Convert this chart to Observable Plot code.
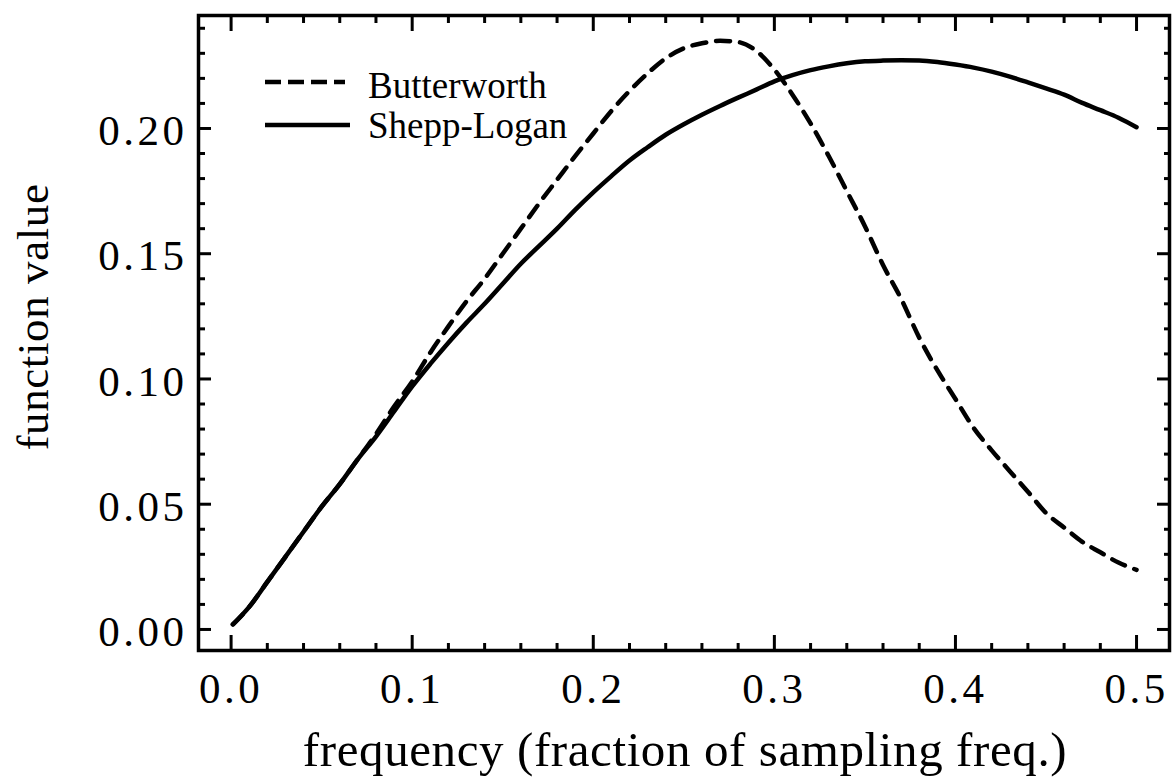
<!DOCTYPE html>
<html><head><meta charset="utf-8">
<script src="https://cdn.jsdelivr.net/npm/d3@7"></script>
<script src="https://cdn.jsdelivr.net/npm/@observablehq/plot@0.6"></script>
<style>
html,body{margin:0;padding:0;background:#fff;}
#chart svg{display:block;}
</style></head><body><div id="chart"></div>
<script>
// ---- data ----
const freq = [0.001,0.01,0.02,0.03,0.04,0.05,0.06,0.07,0.08,0.09,
  0.10,0.11,0.12,0.13,0.14,0.15,0.16,0.17,0.18,0.19,
  0.20,0.21,0.22,0.23,0.24,0.25,0.26,0.27,0.28,0.29,
  0.30,0.31,0.32,0.33,0.34,0.35,0.36,0.37,0.38,0.39,
  0.40,0.41,0.42,0.43,0.44,0.45,0.46,0.47,0.48,0.49,0.50];
const butterworth = [0.002,0.009,0.019,0.029,0.039,0.049,0.058,0.068,0.078,0.089,
  0.099,0.1105,0.121,0.131,0.140,0.150,0.160,0.170,0.1795,0.189,
  0.198,0.207,0.215,0.222,0.228,0.232,0.234,0.235,0.2345,0.231,
  0.2235,0.2135,0.202,0.189,0.175,0.161,0.1455,0.132,0.1165,0.1035,
  0.092,0.0805,0.0715,0.0632,0.055,0.0465,0.0407,0.035,0.0308,0.0267,0.0238];
const sheppLogan = [0.002,0.009,0.019,0.029,0.039,0.049,0.058,0.068,0.077,0.087,
  0.097,0.106,0.1145,0.1225,0.130,0.138,0.146,0.153,0.160,0.1675,
  0.1745,0.181,0.1872,0.1925,0.1975,0.2017,0.2055,0.209,0.2123,0.2155,
  0.2188,0.2213,0.2233,0.2248,0.226,0.2268,0.2271,0.2272,0.2271,0.2265,
  0.2255,0.2243,0.2227,0.2207,0.2184,0.216,0.2135,0.2102,0.2073,0.2043,0.2005];
const seriesNames = ["Butterworth", "Shepp-Logan"];

const xMajorTicks = [0, 0.1, 0.2, 0.3, 0.4, 0.5];
const xTickLabels = ["0.0", "0.1", "0.2", "0.3", "0.4", "0.5"];
const xMinorTicks = [0.02,0.04,0.06,0.08,0.12,0.14,0.16,0.18,0.22,0.24,0.26,0.28,
  0.32,0.34,0.36,0.38,0.42,0.44,0.46,0.48];
const yMajorTicks = [0, 0.05, 0.10, 0.15, 0.20];
const yTickLabels = ["0.00", "0.05", "0.10", "0.15", "0.20"];
const yMinorTicks = [0.01,0.02,0.03,0.04,0.06,0.07,0.08,0.09,0.11,0.12,0.13,0.14,
  0.16,0.17,0.18,0.19,0.21,0.22,0.23,0.24];
const xLabel = "frequency (fraction of sampling freq.)";
const yLabel = "function value";

// ---- build ----
const bw = freq.map((f, i) => ({f, v: butterworth[i]}));
const sl = freq.map((f, i) => ({f, v: sheppLogan[i]}));
const FONT = "'Liberation Serif','Times New Roman',Times,serif";
const xFmt = d => xTickLabels[xMajorTicks.indexOf(d)];
const yFmt = d => yTickLabels[yMajorTicks.indexOf(d)];
const none = () => "";
const tk = {stroke: "black", strokeWidth: 3, label: null, tickFormat: none};

const svg = Plot.plot({
  width: 1172, height: 779,
  marginLeft: 198, marginRight: 3, marginTop: 15, marginBottom: 129,
  x: {domain: [-0.018, 0.5182]},
  y: {domain: [-0.0084, 0.2451]},
  style: {fontFamily: FONT, background: "white", color: "black"},
  marks: [
    // inward ticks on all four sides
    Plot.axisX({...tk, ticks: xMajorTicks, anchor: "bottom", tickSize: -15}),
    Plot.axisX({...tk, ticks: xMinorTicks, anchor: "bottom", tickSize: -7}),
    Plot.axisX({...tk, ticks: xMajorTicks, anchor: "top", tickSize: -15}),
    Plot.axisX({...tk, ticks: xMinorTicks, anchor: "top", tickSize: -7}),
    Plot.axisY({...tk, ticks: yMajorTicks, anchor: "left", tickSize: -13}),
    Plot.axisY({...tk, ticks: yMinorTicks, anchor: "left", tickSize: -7}),
    Plot.axisY({...tk, ticks: yMajorTicks, anchor: "right", tickSize: -13}),
    Plot.axisY({...tk, ticks: yMinorTicks, anchor: "right", tickSize: -6}),
    // tick labels
    Plot.axisX({ticks: xMajorTicks, anchor: "bottom", tickSize: 0, tickPadding: 22,
      tickFormat: xFmt, fontSize: 43, label: null, stroke: null}),
    Plot.axisY({ticks: yMajorTicks, anchor: "left", tickSize: 0, tickPadding: 11,
      tickFormat: yFmt, fontSize: 43, label: null, dy: 3}),
    // axis titles
    Plot.text([xLabel], {frameAnchor: "bottom", text: d => d, fontSize: 49,
      lineAnchor: "bottom", textAnchor: "middle", dx: 1, dy: 115}),
    Plot.text([yLabel], {frameAnchor: "left", text: d => d, fontSize: 45,
      rotate: -90, lineAnchor: "bottom", textAnchor: "middle", dx: -151, dy: -16}),
    // curves
    Plot.line(bw, {x: "f", y: "v", stroke: "black", strokeWidth: 4.5,
      strokeDasharray: "14,10", strokeLinecap: "round", curve: "monotone-x"}),
    Plot.line(sl, {x: "f", y: "v", stroke: "black", strokeWidth: 4.5, curve: "monotone-x"}),
    Plot.frame({stroke: "black", strokeWidth: 3.5})
  ]
});

const s = d3.select(svg);
s.selectAll('g[aria-label="x-axis tick label"] text, g[aria-label="y-axis tick label"] text')
  .attr("letter-spacing", "3.5px");
s.selectAll('g[aria-label="text"] text').attr("letter-spacing", "0.6px");

// legend (inside the frame, upper left)
const lg = s.append("g").attr("font-family", FONT).attr("font-size", 37)
  .attr("fill", "black").attr("text-anchor", "start");
const legendDash = ["16,7", null];
seriesNames.forEach((name, i) => {
  const yLine = 82 + i * 43;
  const ln = lg.append("line").attr("x1", 265).attr("x2", i === 0 ? 345 : 350)
    .attr("y1", yLine).attr("y2", yLine)
    .attr("stroke", "black").attr("stroke-width", 4.5);
  if (legendDash[i]) ln.attr("stroke-dasharray", legendDash[i]);
  lg.append("text").attr("x", 368).attr("y", 98 + i * 40)
    .attr("text-anchor", "start").text(name);
});

document.getElementById("chart").appendChild(svg);
</script>
</body></html>
